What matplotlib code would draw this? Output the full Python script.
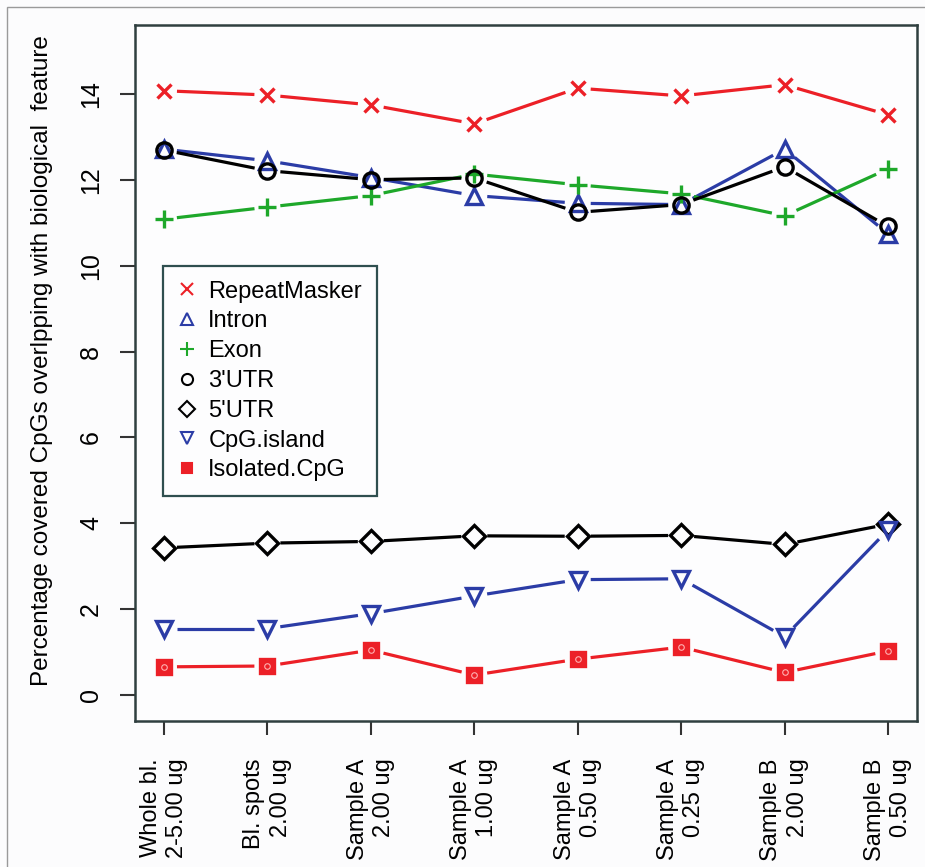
import numpy as np
import matplotlib.pyplot as plt
from matplotlib.lines import Line2D
from matplotlib.patches import Rectangle

plt.rcParams['font.family'] = ['Liberation Sans', 'DejaVu Sans']

# Datos
samples = ['Whole bl.\n2-5.00 ug', 'Bl. spots\n2.00 ug', 'Sample A\n2.00 ug',
           'Sample A\n1.00 ug', 'Sample A\n0.50 ug', 'Sample A\n0.25 ug',
           'Sample B\n2.00 ug', 'Sample B\n0.50 ug']
repeat_masker = [14.07, 13.97, 13.74, 13.30, 14.13, 13.95, 14.21, 13.51]
intron = [12.71, 12.44, 12.05, 11.63, 11.45, 11.42, 12.71, 10.74]
exon = [11.08, 11.36, 11.63, 12.13, 11.88, 11.67, 11.16, 12.25]
utr3 = [12.69, 12.21, 12.00, 12.04, 11.24, 11.42, 12.30, 10.91]
utr5 = [3.43, 3.54, 3.58, 3.71, 3.70, 3.72, 3.51, 3.98]
cpg_island = [1.55, 1.55, 1.90, 2.31, 2.69, 2.71, 1.36, 3.85]
isolated_cpg = [0.66, 0.68, 1.05, 0.47, 0.84, 1.12, 0.53, 1.03]

red = '#ec2027'
blue = '#2b3ca6'
green = '#1ea82a'
black = '#000000'

series = [
    ('RepeatMasker', repeat_masker, red, 'x', 'none'),
    ('Intron', intron, blue, '^', 'none'),
    ('Exon', exon, green, '+', 'none'),
    ("3'UTR", utr3, black, 'o', 'none'),
    ("5'UTR", utr5, black, 'D', 'none'),
    ('CpG.island', cpg_island, blue, 'v', 'none'),
    ('Isolated.CpG', isolated_cpg, red, 's', red),
]

fig = plt.figure(figsize=(9.25, 8.67), dpi=100)
fig.patch.set_facecolor('#fcfcfd')
fig.patches.append(Rectangle((7 / 925, -0.01), 1.0, 1 - 7 / 867 + 0.01, transform=fig.transFigure,
                             fill=False, edgecolor='#9a9a9a', linewidth=1.0))
ax = fig.add_axes([135 / 925, 1 - 721 / 867, 782 / 925, 696 / 867])
ax.set_facecolor('#fdfdfe')

x = np.arange(1, len(samples) + 1)
ax.set_xlim(0.72, 8.28)
ax.set_ylim(-0.6, 15.6)

# tipo "b" de R: lineas cortadas alrededor de cada punto
gap = 13.0
fig.canvas.draw()
for name, vals, col, mk, fc in series:
    pts = ax.transData.transform(np.column_stack([x, vals]))
    for i in range(len(pts) - 1):
        p0, p1 = pts[i], pts[i + 1]
        d = p1 - p0
        L = np.hypot(*d)
        if L <= 2 * gap:
            continue
        u = d / L
        seg = ax.transData.inverted().transform(np.array([p0 + u * gap, p1 - u * gap]))
        ax.plot(seg[:, 0], seg[:, 1], color=col, lw=2.3, solid_capstyle='butt')
    ms = 11
    if mk == 'x':
        ms = 10
    if mk == '+':
        ms = 13
    if mk == 's':
        ms = 10
    ax.plot(x, vals, linestyle='none', marker=mk, markersize=ms, markeredgewidth=2.4,
            markeredgecolor=col, markerfacecolor=fc)
    if mk == 's':
        ax.plot(x, vals, linestyle='none', marker='o', markersize=4, markeredgewidth=0.8,
                markeredgecolor='#ffb0b0', markerfacecolor='none')

ax.set_xticks(x)
ax.set_xticklabels(samples, rotation=90, ha='center', va='top', multialignment='right',
                   fontsize=17, linespacing=1.25)
ax.set_yticks(np.arange(0, 15, 2))
ax.set_yticklabels([str(v) for v in range(0, 15, 2)], rotation=90, va='center', fontsize=18)
ax.tick_params(axis='x', length=10, width=1.5, pad=17, color='#333333')
ax.tick_params(axis='y', length=11, width=1.5, pad=12, color='#333333')
for sp in ax.spines.values():
    sp.set_linewidth(1.8)
    sp.set_color('#2f3f3f')

fig.text(42 / 925, 1 - 361 / 867, 'Percentage covered CpGs overlpping with biological  feature',
         rotation=90, ha='center', va='center', fontsize=17.5)

handles = []
for name, vals, col, mk, fc in series:
    ms = 8
    if mk == '+':
        ms = 10
    if mk == 's':
        ms = 7
    handles.append(Line2D([], [], linestyle='none', marker=mk, markersize=ms, markeredgewidth=1.5,
                          markeredgecolor=col, markerfacecolor=fc, label=name))
leg = ax.legend(handles=handles, loc='upper left', bbox_to_anchor=(0.0358, 0.6537),
                borderaxespad=0, fontsize=17, frameon=True, fancybox=False,
                handlelength=0.8, handletextpad=0.5, labelspacing=0.33,
                borderpad=0.62, edgecolor='#2f4f4f')
leg.get_frame().set_linewidth(1.6)
leg.get_frame().set_facecolor('#fdfdfe')
leg.get_frame().set_alpha(1.0)

fig.savefig('out.png', dpi=100, facecolor=fig.get_facecolor())
